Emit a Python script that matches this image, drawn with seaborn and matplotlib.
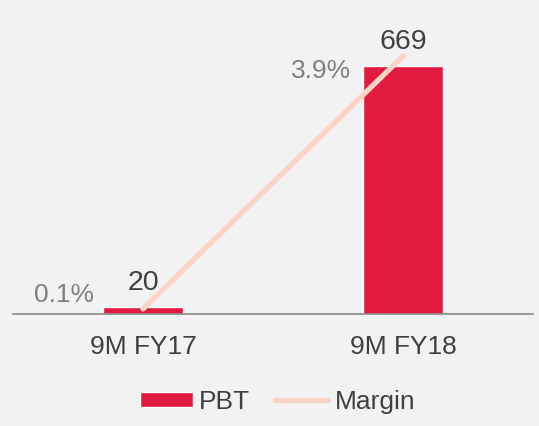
import numpy as np
import matplotlib
matplotlib.use("Agg")
import matplotlib.pyplot as plt
import seaborn as sns

# chart values
periods = ["9M FY17", "9M FY18"]
pbt = [20, 669]
margin = [0.1, 3.9]
margin_labels = ["0.1%", "3.9%"]

bar_color = "#E31A3F"
line_color = "#FBD3C7"
bg = "#F2F2F2"

sns.set_theme(style="white")
plt.rcParams['font.family'] = ['Liberation Sans', 'DejaVu Sans']

fig = plt.figure(figsize=(5.39, 4.26), dpi=100, facecolor=bg)
ax = fig.add_axes([0.0241, 0.263, 0.965, 0.690])
ax.set_facecolor("none")

sns.barplot(x=periods, y=pbt, color=bar_color, width=0.31, ax=ax,
            saturation=1, label="PBT")
ax.set_xlim(-0.5, 1.5)
ax.set_ylim(0, 792)

ax2 = ax.twinx()
xpos = np.arange(len(periods))
sns.lineplot(x=xpos, y=margin, ax=ax2, color=line_color, linewidth=3.8,
             solid_capstyle="round", label="Margin", legend=False)
ax2.set_ylim(0.025, 4.44)

for a in (ax, ax2):
    for s in a.spines.values():
        s.set_visible(False)
    a.set_yticks([])
    a.set_ylabel("")
ax.spines["bottom"].set_visible(True)
ax.spines["bottom"].set_color("#898989")
ax.spines["bottom"].set_linewidth(1.2)
ax.tick_params(axis="x", length=0, pad=15, labelsize=19, labelcolor="#404040")

# bar value labels
for i, v in enumerate(pbt):
    ax.annotate(str(v), (i, v), xytext=(0, 12), textcoords="offset points",
                ha="center", va="baseline", fontsize=20.5, color="#404040")

# margin labels
offsets = [(-57, 5), (-59, -16)]
for i, (m, lab) in enumerate(zip(margin, margin_labels)):
    ax2.annotate(lab, (i, m), xytext=offsets[i], textcoords="offset points",
                 ha="center", va="baseline", fontsize=19, color="#7F7F7F")

h1, l1 = ax.get_legend_handles_labels()
h2, l2 = ax2.get_legend_handles_labels()
if ax.get_legend() is not None:
    ax.get_legend().remove()
fig.legend(h1 + h2, l1 + l2, loc="center", bbox_to_anchor=(0.515, 0.057),
           ncol=2, frameon=False, fontsize=19, handlelength=2.0,
           handleheight=0.53, handletextpad=0.25, columnspacing=0.95,
           labelcolor="#404040")

fig.savefig("out.png", dpi=100, facecolor=bg)
